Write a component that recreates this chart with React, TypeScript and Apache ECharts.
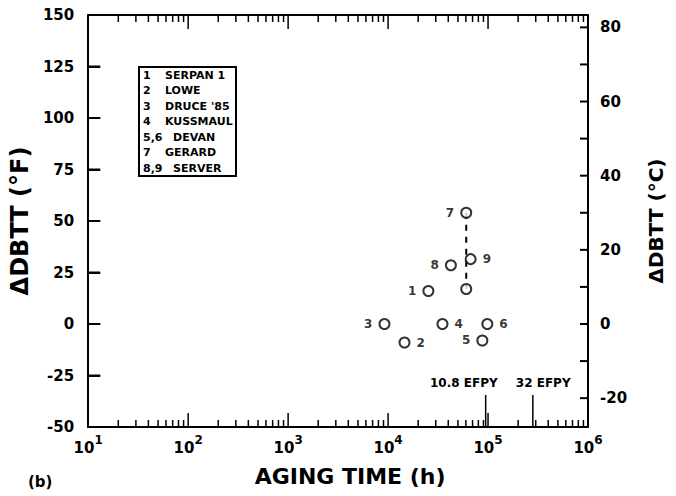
import React, { useEffect, useRef } from "react";
import * as echarts from "echarts";

// ---- data ----
const pointLabels = ["1", "2", "3", "4", "5", "6", "7", "8", "9", ""];
const agingHours = [25300, 14600, 9200, 35000, 87700, 98400, 60500, 42500, 67000, 60500];
const dbttF = [16, -9, 0, 0, -8, 0, 54, 28.5, 31.5, 17];
const gerardPair = [6, 9]; // indices joined by the dashed line

const legendKeys = ["1", "2", "3", "4", "5,6", "7", "8,9"];
const legendNames = ["SERPAN 1", "LOWE", "DRUCE '85", "KUSSMAUL", "DEVAN", "GERARD", "SERVER"];

const fMin = -50;
const fMax = 150;
const fInterval = 25;
const fTickValues = [-25, 0, 25, 50, 75, 100, 125];
const cLabelValues = [80, 60, 40, 20, 0, -20];
const cTickValues = [80, 70, 60, 50, 40, 30, 20, 10, 0, -10, -20];
const xMin = 10;
const xMax = 1000000;
const efpyYears = [10.8, 32];
const hoursPerEfpy = 8766;

const FONT = "DejaVu Sans";

const leftLabeled = new Set(["1", "3", "5", "7", "8"]);

export default function App() {
  const ref = useRef<HTMLDivElement>(null);
  useEffect(() => {
    if (!ref.current) return;
    const chart = echarts.init(ref.current, undefined, { renderer: "svg" });

    // x tick descriptors: [x value, y value, isDecade]
    const xTicks: number[][] = [];
    for (let e = 1; e < 6; e++) {
      for (let m = 1; m <= 9; m++) {
        if (e === 1 && m === 1) continue;
        xTicks.push([m * Math.pow(10, e), 0, m === 1 ? 1 : 0]);
      }
    }

    const axisText = { color: "#000", fontFamily: FONT, fontWeight: "bold" as const };
    const tick = () => ({ stroke: "#000", lineWidth: 1.5 });

    const xLabel = {
      margin: 7,
      formatter: (v: number) => `{b|10}{s|${Math.round(Math.log10(v))}}`,
      rich: {
        b: { ...axisText, fontSize: 15, lineHeight: 21, verticalAlign: "bottom" },
        s: { ...axisText, fontSize: 12, lineHeight: 21, verticalAlign: "top" },
      },
    };

    const baseGraphics: any[] = [
      {
        type: "group",
        children: [
          {
            type: "rect",
            shape: { x: 139, y: 67, width: 97, height: 109 },
            style: { fill: "#fff", stroke: "#000", lineWidth: 2 },
          },
          ...legendKeys.flatMap((k, i) => [
            {
              type: "text",
              x: 143,
              y: 75 + i * 15.5,
              style: {
                text: k,
                fill: "#000",
                font: `bold 11px "${FONT}"`,
                verticalAlign: "middle",
              },
            },
            {
              type: "text",
              x: k.length > 1 ? 173 : 165,
              y: 75 + i * 15.5,
              style: {
                text: legendNames[i],
                fill: "#000",
                font: `bold 11px "${FONT}"`,
                verticalAlign: "middle",
              },
            },
          ]),
        ],
      },
      {
        type: "text",
        x: 28,
        y: 482,
        style: { text: "(b)", fill: "#000", font: `bold 15px "${FONT}"`, verticalAlign: "middle" },
      },
    ];

    const option: any = {
      animation: false,
      backgroundColor: "#fff",
      grid: { left: 85, right: 88, top: 15, bottom: 69, containLabel: false },
      xAxis: [
        {
          type: "log",
          logBase: 10,
          min: xMin,
          max: xMax,
          position: "bottom",
          name: "AGING TIME (h)",
          nameLocation: "middle",
          nameGap: 38,
          nameTextStyle: { ...axisText, fontSize: 22, padding: [0, 0, 0, 24] },
          axisLine: { onZero: false, lineStyle: { color: "#000", width: 2 } },
          axisTick: { show: false },
          axisLabel: xLabel,
          splitLine: { show: false },
          minorTick: { show: false },
        },
        {
          type: "log",
          logBase: 10,
          min: xMin,
          max: xMax,
          position: "top",
          axisLine: { onZero: false, lineStyle: { color: "#000", width: 2 } },
          axisTick: { show: false },
          axisLabel: { show: false },
          splitLine: { show: false },
        },
      ],
      yAxis: [
        {
          type: "value",
          min: fMin,
          max: fMax,
          interval: fInterval,
          position: "left",
          name: "ΔDBTT (°F)",
          nameLocation: "middle",
          nameRotate: 90,
          nameGap: 50,
          nameTextStyle: { ...axisText, fontSize: 24 },
          axisLine: { show: true, onZero: false, lineStyle: { color: "#000", width: 2 } },
          axisTick: { show: true, inside: true, length: 12, lineStyle: { color: "#000", width: 2 } },
          axisLabel: { ...axisText, fontSize: 15, margin: 14 },
          splitLine: { show: false },
        },
        {
          type: "value",
          min: fMin / 1.8,
          max: fMax / 1.8,
          position: "right",
          name: "ΔDBTT (°C)",
          nameLocation: "middle",
          nameRotate: 90,
          nameGap: 58,
          nameTextStyle: { ...axisText, fontSize: 20 },
          axisLine: { show: true, onZero: false, lineStyle: { color: "#000", width: 2 } },
          axisTick: { show: false },
          axisLabel: { ...axisText, fontSize: 15, margin: 12, customValues: cLabelValues },
          splitLine: { show: false },
        },
      ],
      graphic: baseGraphics,
      series: [
        {
          type: "custom",
          name: "x ticks",
          xAxisIndex: 0,
          yAxisIndex: 0,
          clip: false,
          silent: true,
          z: 5,
          data: xTicks,
          encode: { x: 0, y: 1 },
          renderItem: (_params: any, api: any) => {
            const p = api.coord([api.value(0), api.value(1)]);
            const yBottom = api.coord([1000, fMin])[1];
            const yTop = api.coord([1000, fMax])[1];
            const len = api.value(2) ? 14 : 7;
            return {
              type: "group",
              children: [
                { type: "line", shape: { x1: p[0], y1: yBottom, x2: p[0], y2: yBottom - len }, style: tick() },
                { type: "line", shape: { x1: p[0], y1: yTop, x2: p[0], y2: yTop + len }, style: tick() },
              ],
            };
          },
        },
        {
          type: "custom",
          name: "EFPY",
          xAxisIndex: 0,
          yAxisIndex: 0,
          clip: false,
          silent: true,
          data: efpyYears.map((y) => [y * hoursPerEfpy, fMin, y]),
          encode: { x: 0, y: 1 },
          renderItem: (p: any, api: any) => {
            const b = api.coord([api.value(0), api.value(1)]);
            const first = p.dataIndex === 0;
            return {
              type: "group",
              children: [
                {
                  type: "line",
                  shape: { x1: b[0], y1: b[1], x2: b[0], y2: b[1] - 32 },
                  style: tick(),
                },
                {
                  type: "text",
                  x: first ? b[0] + 12 : b[0] - 17,
                  y: b[1] - 44,
                  style: {
                    text: `${api.value(2)} EFPY`,
                    fill: "#000",
                    font: `bold 12px "${FONT}"`,
                    align: first ? "right" : "left",
                    verticalAlign: "middle",
                  },
                },
              ],
            };
          },
        },
        {
          type: "line",
          name: "GERARD range",
          xAxisIndex: 0,
          yAxisIndex: 0,
          symbol: "none",
          silent: true,
          z: 2,
          data: gerardPair.map((i) => [agingHours[i], dbttF[i]]),
          lineStyle: { color: "#000", width: 2, type: [6, 6] },
        },
        {
          type: "scatter",
          name: "data",
          xAxisIndex: 0,
          yAxisIndex: 0,
          z: 3,
          symbol: "circle",
          symbolSize: 10,
          itemStyle: { color: "#fff", borderColor: "#000", borderWidth: 2 },
          data: agingHours.map((h, i) => ({
            value: [h, dbttF[i]],
            label: { position: leftLabeled.has(pointLabels[i]) ? "left" : "right" },
          })),
          label: {
            show: true,
            distance: 6,
            formatter: (p: any) => pointLabels[p.dataIndex],
            color: "#000",
            fontFamily: FONT,
            fontWeight: "bold",
            fontSize: 12,
          },
        },
      ],
    };

    chart.setOption(option);

    // y-axis ticks as small filled rects, placed through the chart's own axis scales
    const px = (v: number) => chart.convertToPixel({ xAxisIndex: 0 }, v) as number;
    const left = 2 * px(100) - px(1000);
    const right = 2 * px(100000) - px(10000);
    const tickRects: any[] = [];
    fTickValues.forEach((v) => {
      const y = chart.convertToPixel({ yAxisIndex: 0 }, v) as number;
      if (isFinite(y) && isFinite(left)) {
        tickRects.push({
          type: "rect",
          z: 100,
          shape: { x: left, y: y - 1, width: 12, height: 2 },
          style: { fill: "#000" },
        });
      }
    });
    cTickValues.forEach((c) => {
      const y = chart.convertToPixel({ yAxisIndex: 1 }, c) as number;
      if (isFinite(y) && isFinite(right)) {
        tickRects.push({
          type: "rect",
          z: 100,
          shape: { x: right - 8, y: y - 1, width: 8, height: 2 },
          style: { fill: "#000" },
        });
      }
    });
    chart.setOption({ graphic: [...baseGraphics, { type: "group", z: 100, children: tickRects }] });

    return () => chart.dispose();
  }, []);

  return (
    <div
      ref={ref}
      style={{ position: "fixed", left: 0, top: 0, width: 676, height: 496, background: "#fff" }}
    />
  );
}
